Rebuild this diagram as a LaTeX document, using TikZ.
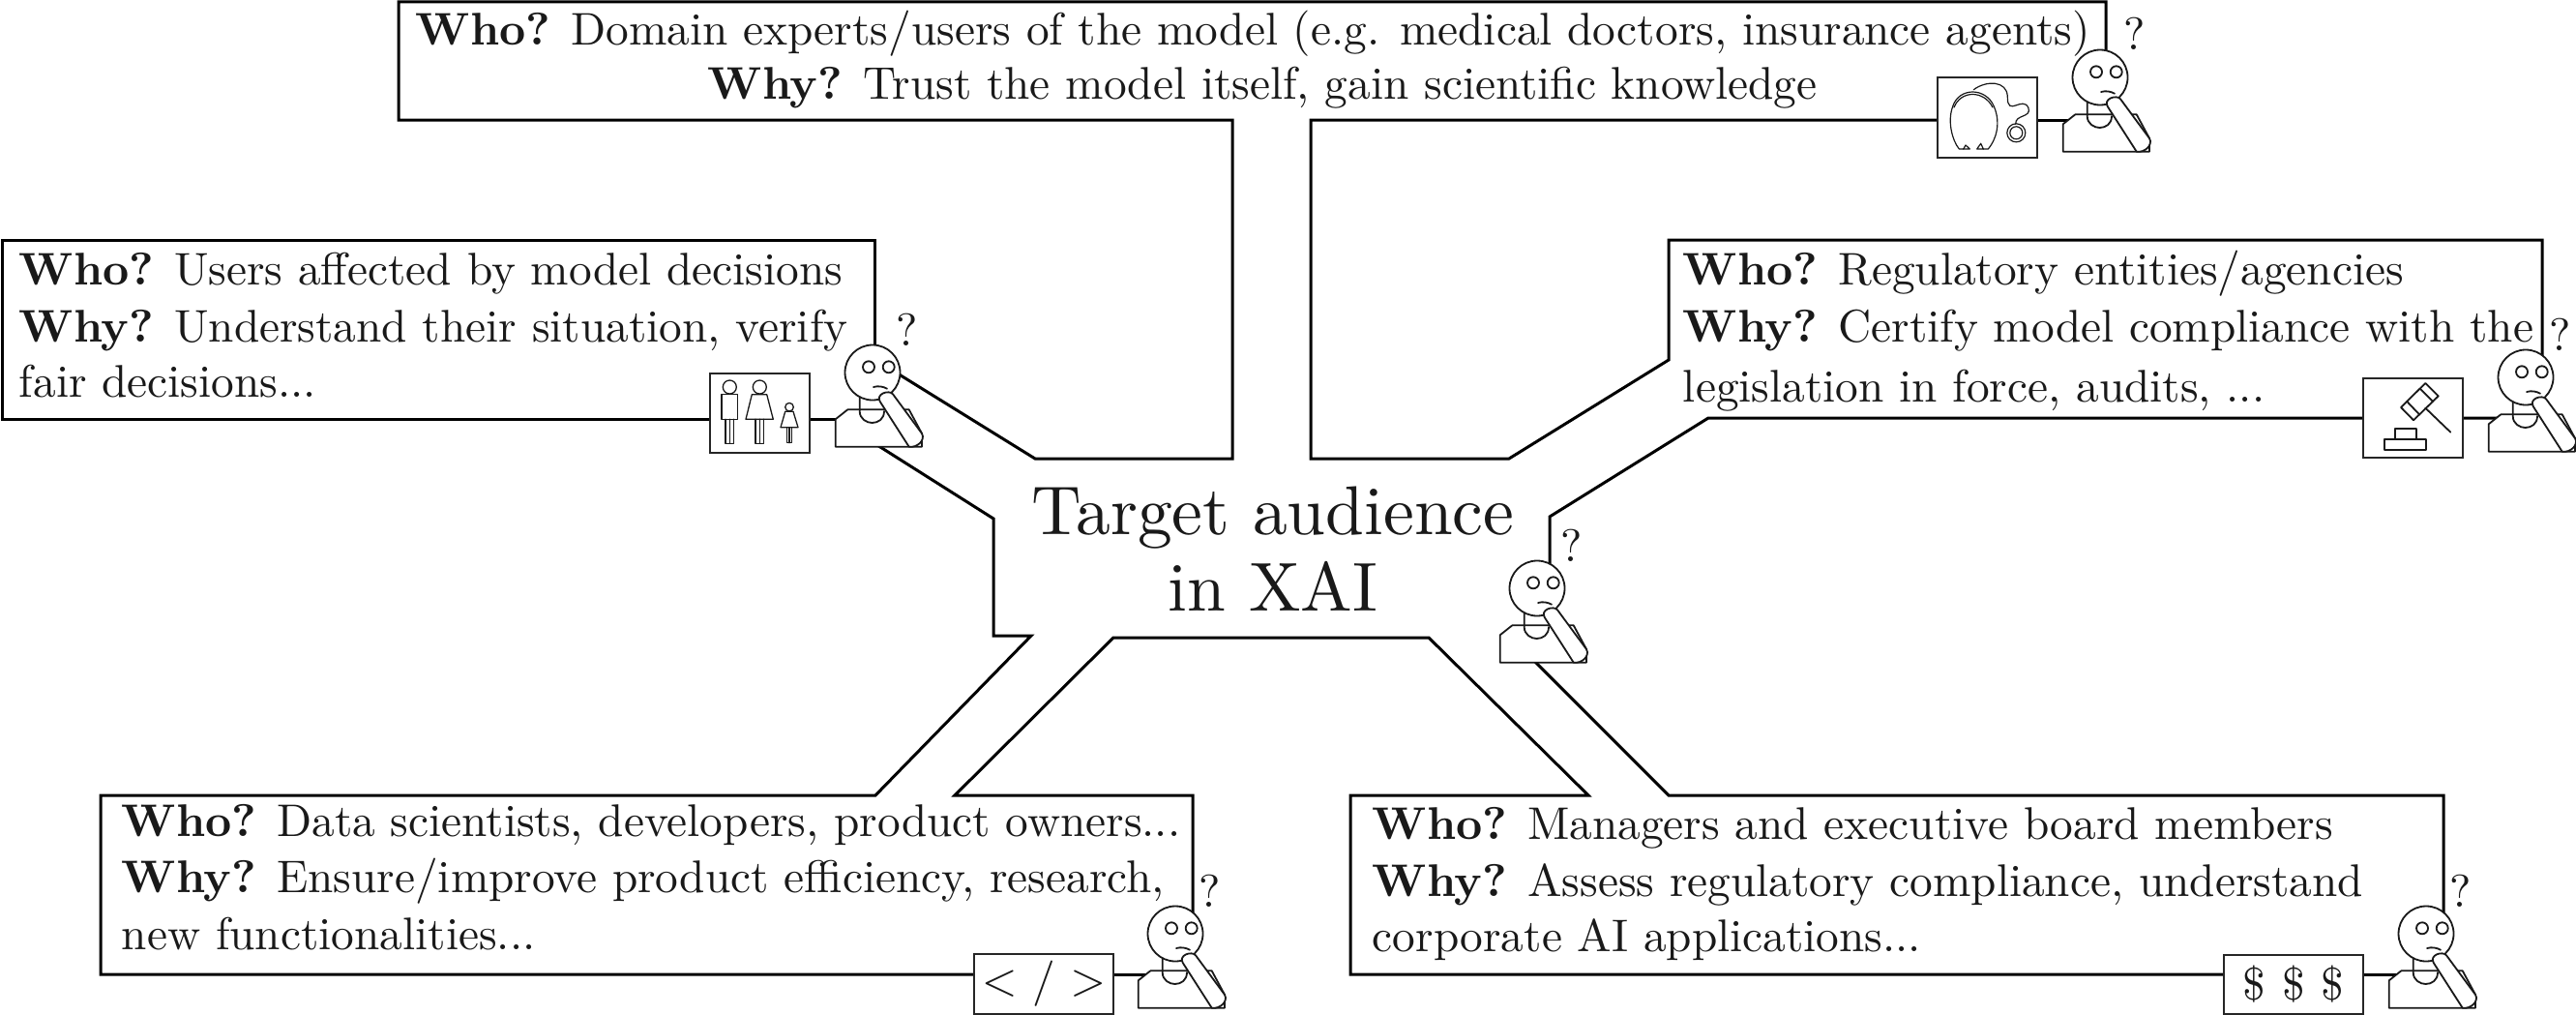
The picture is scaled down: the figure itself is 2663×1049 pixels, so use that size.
\documentclass[tikz,border=0pt]{standalone}
\usetikzlibrary{calc}
\tikzset{
  x=1pt,y=-1pt,
  conn/.style={line width=3pt,line join=miter},
  thin line/.style={line width=1.8pt,black!90,line join=round,line cap=round},
  iconbox/.style={draw,black!85,fill=white,line width=1.7pt,inner sep=0pt,rectangle},
  txt/.style={anchor=base west,inner sep=0pt,font=\fontsize{10}{12}\selectfont,text=black!90,scale=4.73,transform shape},
  big/.style={anchor=base,inner sep=0pt,font=\fontsize{10}{12}\selectfont,text=black!90,scale=7.15,transform shape},
  headnode/.style={circle,draw,fill=white,line width=1.8pt,minimum size=57pt,inner sep=0pt},
  glyphs/.style={font=\fontsize{10}{12}\selectfont,text=black!90,inner sep=0pt,scale=4.73,transform shape}
}
\newcommand{\person}[3]{%
  \begin{scope}[shift={(#2,#3)},thin line]
    \draw[fill=white] (-38.3,48.3) -- (-25.7,38.3) -- (37.7,38.3) -- (51,63) -- (51,76.7) -- (-38.3,76.7) -- cycle;
    \draw (-13.3,20) -- (-13.3,40) .. controls (-13.3,48) and (-6,52) .. (-0.5,52) .. controls (6,52) and (12,48) .. (12,40);
    \node[headnode] (#1) at (0,0) {};
    \draw (-4,-5.7) circle[radius=6pt] (16.7,-5.7) circle[radius=6pt];
    \draw (1,15) .. controls (6,13.5) and (11,14.5) .. (15,16.7);
    \draw[fill=white] (7.7,30) -- (37.7,76.7) .. controls (46,78) and (55,70) .. (51,63) -- (21,22.3) .. controls (17,17.5) and (3,22) .. (7.7,30) -- cycle;
    \node[txt,anchor=base] (#1q) at (36,-28) {?};
  \end{scope}}
\begin{document}
\begin{tikzpicture}
\useasboundingbox (0,0) rectangle (2663,1049);
\coordinate (i1c) at (2054.5,121.5);
\coordinate (i2c) at (785.5,427);
\coordinate (i3c) at (2494.5,432);
\coordinate (i5c) at (2371,1017.5);
\coordinate (i6c) at (1079,1017);
\coordinate (p1) at (2171,80);
\coordinate (p2) at (902,385);
\coordinate (p3) at (2611,390);
\coordinate (p4) at (1589,608);
\coordinate (p5) at (2508,965);
\coordinate (p6) at (1215,965);
% connectors
\draw[conn] (p1 -| 2177,0) -- (2177,2) -- (412,2) -- (412,124) -- (1274,124) -- (1274,474) -- (1070,474) -- ($(p2)+(0,-15)$);
\draw[conn] (i1c |- 0,124) -- (1355,124) -- (1355,474) -- (1560,474) -- (1725,372) -- (1725,248) -- (2628,248) -- (p3 -| 2628,0);
\draw[conn] (p1 |- 0,124) -- (i1c |- 0,124);
\draw[conn] (p2 -| 904,0) -- (904,248) -- (2,248) -- (2,433) -- (i2c |- 0,433);
\draw[conn] (i2c |- 0,433) -- (p2 |- 0,433);
\draw[conn] ($(p2)+(-22,58)$) -- (1027,536) -- (1027,657) -- (1066,657) -- (905,822) -- (104,822) -- (104,1007) -- (i6c |- 0,1007);
\draw[conn] (i6c |- 0,1007) -- (p6 |- 0,1007);
\draw[conn] (p6 -| 1233,0) -- (1233,822) -- (987,822) -- (1151,659) -- (1477,659) -- (1642,822) -- (1396,822) -- (1396,1007) -- (i5c |- 0,1007);
\draw[conn] (i5c |- 0,1007) -- (p5 |- 0,1007);
\draw[conn] (p3 |- 0,432) -- (1766,432) -- (1602,534) -- (p4 -| 1602,0);
\draw[conn] ($(p4)+(-19,59)$) -- (1725,822) -- (2526,822) -- (p5 -| 2526,0);
% persons
\person{pa}{2171}{80}
\person{pb}{902}{385}
\person{pc}{2611}{390}
\person{pd}{1589}{608}
\person{pe}{2508}{965}
\person{pf}{1215}{965}
% icon boxes
\node[iconbox,minimum width=103pt,minimum height=83pt] (i1) at (i1c) {};
\node[iconbox,minimum width=103pt,minimum height=82pt] (i2) at (i2c) {};
\node[iconbox,minimum width=103pt,minimum height=82pt] (i3) at (i3c) {};
\node[iconbox,minimum width=144pt,minimum height=61pt] (i5) at (i5c) {};
\node[iconbox,minimum width=144pt,minimum height=62pt] (i6) at (i6c) {};
\node[glyphs] (i5t) at (i5c) {\$\hspace{3.6pt}\$\hspace{3.6pt}\$};
\node[glyphs] (i6t) at (i6c) {$<$\hspace{3.3pt}/\hspace{3.3pt}$>$};
% stethoscope
\begin{scope}[shift={(2003,80)},thin line,line width=1.2pt]
  \draw (15.7,30) .. controls (22,10) and (50,10) .. (58.3,30);
  \draw (17,31) .. controls (24,13) and (48,13) .. (57,31);
  \draw (15.7,30) .. controls (10,45) and (15,65) .. (22.3,74) -- (26.7,74);
  \draw (58.3,30) .. controls (66,48) and (60,65) .. (52.3,74) -- (47.3,74);
  \draw (26.7,74) -- (29,70) -- (33.3,74) -- cycle;
  \draw (47.3,74) -- (44.7,68.3) -- (40.7,74) -- cycle;
  \draw (37.3,12.7) .. controls (50,3) and (72,3) .. (72.3,20) .. controls (72,42) and (88,18) .. (94,31.7) .. controls (97,42) and (80,38) .. (80.7,48.3);
  \draw (81.3,57.3) circle[radius=9.5pt] (81.3,57.3) circle[radius=6.5pt];
\end{scope}
% people
\begin{scope}[shift={(734,386)},thin line,line width=1.3pt]
  \draw (20.3,14) circle[radius=7pt];
  \draw (12,21.7) rectangle (28.7,47.3);
  \draw (16,47.3) -- (16,72.3) -- (24.7,72.3) -- (24.7,47.3) (20.3,47.3) -- (20.3,72.3);
  \draw (51.3,14) circle[radius=7pt];
  \draw (43.3,21.7) -- (58.7,21.7) -- (65.3,47.3) -- (37,47.3) -- cycle;
  \draw (47,47.3) -- (47,72.3) -- (55.7,72.3) -- (55.7,47.3) (51.3,47.3) -- (51.3,72.3);
  \draw (82,34.7) circle[radius=4.3pt];
  \draw (77.7,39.3) -- (86,39.3) -- (91,55.7) -- (73,55.7) -- cycle;
  \draw (79.3,55.7) -- (79.3,71.7) -- (84.7,71.7) -- (84.7,55.7) (82,55.7) -- (82,71.7);
\end{scope}
% gavel
\begin{scope}[shift={(2443,391)},thin line]
  \draw (64.3,5) -- (77.7,18.3) -- (52,43.3) -- (39,30) -- cycle;
  \draw (58.7,10.7) -- (72,24) (45.3,24) -- (58,37.3);
  \draw (64.3,30.7) -- (90.3,55.7);
  \draw (21.7,63) rectangle (65.3,74);
  \draw (33,52.3) rectangle (54.7,63);
\end{scope}
% texts
\node[txt] (t1a) at (429,47) {\textbf{Who?} Domain experts/users of the model (e.g. medical doctors, insurance agents)};
\node[txt] (t1b) at (731,102) {\textbf{Why?} Trust the model itself, gain scientific knowledge};
\node[txt] (t2a) at (19,294) {\textbf{Who?} Users affected by model decisions};
\node[txt] (t2b) at (19,353) {\textbf{Why?} Understand their situation, verify};
\node[txt] (t2c) at (19,410) {fair decisions...};
\node[txt] (t3a) at (1739,294) {\textbf{Who?} Regulatory entities/agencies};
\node[txt] (t3b) at (1739,353) {\textbf{Why?} Certify model compliance with the};
\node[txt] (t3c) at (1739,415) {legislation in force, audits, ...};
\node[txt] (t4a) at (125,864) {\textbf{Who?} Data scientists, developers, product owners...};
\node[txt] (t4b) at (125,922) {\textbf{Why?} Ensure/improve product efficiency, research,};
\node[txt] (t4c) at (125,981) {new functionalities...};
\node[txt] (t5a) at (1418,867) {\textbf{Who?} Managers and executive board members};
\node[txt] (t5b) at (1418,926) {\textbf{Why?} Assess regulatory compliance, understand};
\node[txt] (t5c) at (1418,983) {corporate AI applications...};
\node[big] (c1) at (1316,552) {Target audience};
\node[big] (c2) at (1316,631) {in XAI};
\end{tikzpicture}
\end{document}
